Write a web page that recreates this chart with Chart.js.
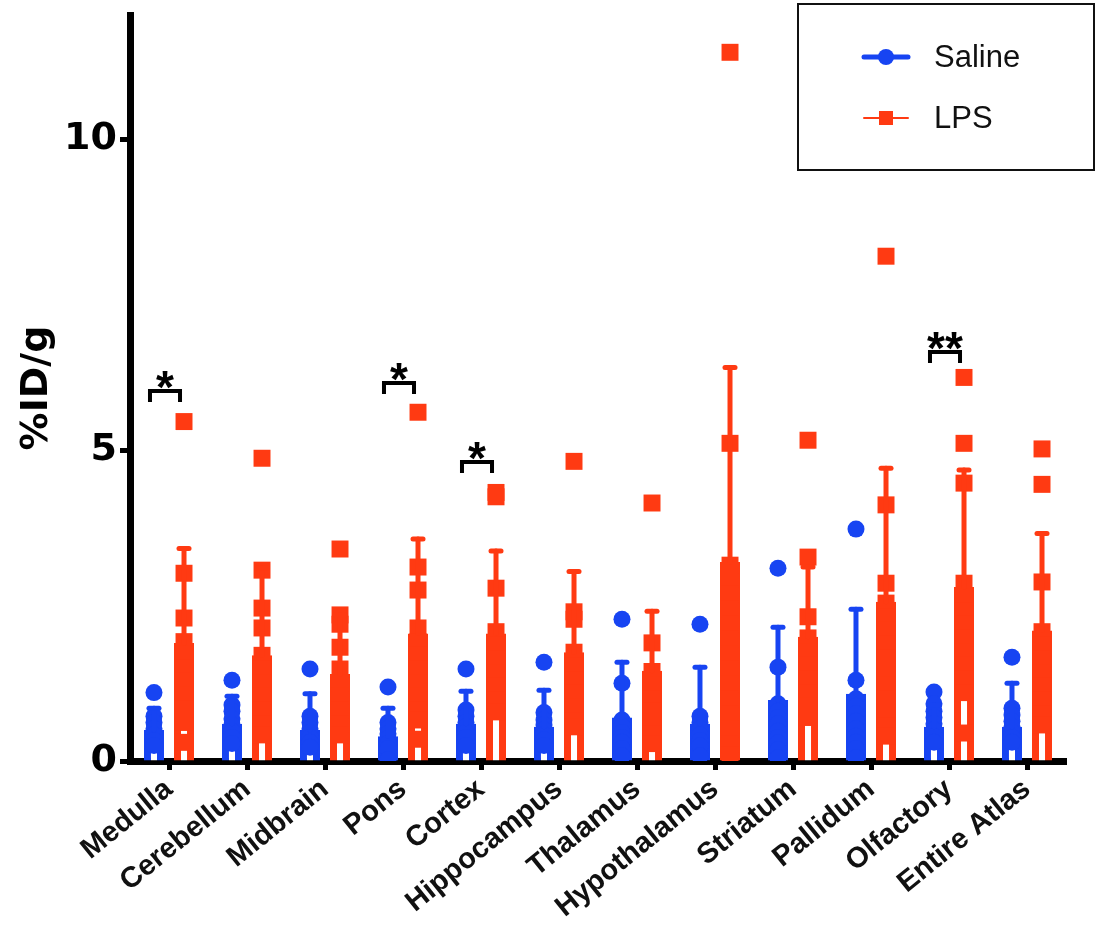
<!DOCTYPE html>
<html>
<head>
<meta charset="utf-8">
<script src="https://cdn.jsdelivr.net/npm/chart.js@4.4.1/dist/chart.umd.min.js"></script>
<style>
  html, body { margin: 0; padding: 0; background: #fff; }
  #wrap { width: 1097px; height: 939px; position: relative; }
</style>
</head>
<body>
<div id="wrap"><canvas id="c" width="1097" height="939"></canvas></div>
<script>
// ---------- data ----------
const categories = ['Medulla','Cerebellum','Midbrain','Pons','Cortex','Hippocampus','Thalamus','Hypothalamus','Striatum','Pallidum','Olfactory','Entire Atlas'];
const seriesNames = ['Saline', 'LPS'];

const salineMean = [0.50, 0.60, 0.50, 0.40, 0.60, 0.55, 0.70, 0.60, 0.98, 1.08, 0.55, 0.55];
const salineSD   = [0.35, 0.44, 0.58, 0.45, 0.52, 0.59, 0.89, 0.91, 1.17, 1.36, 0.35, 0.70];
const lpsMean    = [1.90, 1.70, 1.40, 2.05, 2.05, 1.75, 1.45, 3.20, 2.00, 2.56, 2.80, 2.10];
const lpsSD      = [1.52, 1.40, 0.95, 1.52, 1.33, 1.30, 0.96, 3.13, 1.12, 2.15, 1.88, 1.56];

const salinePoints = [
  [1.10, 0.72, 0.62, 0.52, 0.42, 0.33, 0.25],
  [1.30, 0.90, 0.80, 0.68, 0.58, 0.48, 0.38, 0.28],
  [1.48, 0.72, 0.62, 0.52, 0.45, 0.38, 0.30, 0.22],
  [1.19, 0.62, 0.52, 0.44, 0.36, 0.28, 0.20, 0.02],
  [1.48, 0.82, 0.72, 0.62, 0.55, 0.46, 0.38, 0.25],
  [1.59, 0.78, 0.66, 0.58, 0.50, 0.42, 0.34, 0.25],
  [2.28, 1.25, 0.66, 0.56, 0.46, 0.38, 0.30, 0.20, 0.08],
  [2.20, 0.72, 0.62, 0.52, 0.42, 0.33, 0.24, 0.08],
  [3.10, 1.51, 0.92, 0.80, 0.70, 0.60, 0.48, 0.38, 0.29, 0.18, 0.05],
  [3.73, 1.30, 1.00, 0.88, 0.76, 0.64, 0.52, 0.40, 0.30, 0.20, 0.05],
  [1.11, 0.92, 0.80, 0.70, 0.60, 0.50, 0.40, 0.30],
  [1.67, 0.85, 0.74, 0.64, 0.55, 0.46, 0.38, 0.30]
];
const lpsPoints = [
  [5.46, 3.02, 2.30, 1.92, 1.72, 1.50, 1.28, 1.06, 0.84, 0.62, 0.30],
  [4.87, 3.07, 2.46, 2.14, 1.70, 1.48, 1.26, 1.04, 0.82, 0.60, 0.42],
  [3.41, 2.35, 2.20, 1.83, 1.48, 1.26, 1.04, 0.82, 0.60, 0.42],
  [5.61, 3.12, 2.75, 2.14, 1.92, 1.70, 1.48, 1.26, 1.04, 0.82, 0.66, 0.35],
  [4.32, 4.25, 2.78, 2.08, 1.86, 1.64, 1.42, 1.20, 0.98, 0.79],
  [4.82, 2.40, 2.28, 1.75, 1.53, 1.31, 1.09, 0.87, 0.65, 0.55],
  [4.15, 1.90, 1.44, 1.22, 1.00, 0.80, 0.62, 0.44, 0.28],
  [11.40, 5.11, 3.15, 2.92, 2.68, 2.44, 2.20, 1.96, 1.72, 1.48, 1.24, 1.00, 0.76, 0.52, 0.28, 0.10],
  [5.16, 3.28, 2.32, 1.98, 1.76, 1.54, 1.32, 1.10, 0.88, 0.70],
  [8.12, 4.12, 2.86, 2.54, 2.32, 2.10, 1.88, 1.66, 1.44, 1.22, 1.00, 0.78, 0.56, 0.40],
  [6.17, 5.11, 4.47, 2.86, 2.64, 2.42, 2.20, 1.98, 1.76, 1.54, 1.32, 1.10, 0.45],
  [5.02, 4.45, 2.88, 2.08, 1.86, 1.64, 1.42, 1.20, 0.98, 0.76, 0.58]
];

const yTicks = [0, 5, 10];
const sigCategory = [0, 3, 4, 10];
const sigLevel    = [5.95, 6.08, 4.81, 6.58];
const sigLabel    = ['*', '*', '*', '**'];

// ---------- styles ----------
const BLUE = '#1744f2';
const RED  = '#ff3a12';
const OFF = 0.1925; // half distance between the two bars of a group, in category units

function barXY(means, sign) { return means.map((v, i) => ({ x: i + sign * OFF, y: v })); }
function ptsXY(pts, sign) {
  const out = [];
  pts.forEach((arr, i) => arr.forEach(v => out.push({ x: i + sign * OFF, y: v })));
  return out;
}

// ---------- plugins ----------
const errorBars = {
  id: 'errorBars',
  afterDatasetsDraw(chart) {
    const ctx = chart.ctx, y = chart.scales.y;
    const sds = [salineSD, lpsSD], means = [salineMean, lpsMean], cols = [BLUE, RED];
    [0, 1].forEach(d => {
      const meta = chart.getDatasetMeta(d);
      meta.data.forEach((el, i) => {
        const yTop = y.getPixelForValue(means[d][i] + sds[d][i]);
        ctx.save();
        ctx.strokeStyle = cols[d];
        ctx.lineCap = 'round';
        ctx.lineWidth = 5;
        ctx.beginPath(); ctx.moveTo(el.x, el.y); ctx.lineTo(el.x, yTop); ctx.stroke();
        ctx.beginPath(); ctx.moveTo(el.x - 5, yTop); ctx.lineTo(el.x + 5, yTop); ctx.stroke();
        ctx.restore();
      });
    });
  }
};

const sigMarks = {
  id: 'sigMarks',
  afterDatasetsDraw(chart) {
    const ctx = chart.ctx, y = chart.scales.y;
    const m0 = chart.getDatasetMeta(0), m1 = chart.getDatasetMeta(1);
    sigCategory.forEach((c, k) => {
      const x0 = m0.data[c].x - 4, x1 = m1.data[c].x - 4;
      const yy = y.getPixelForValue(sigLevel[k]);
      ctx.save();
      ctx.strokeStyle = '#000';
      ctx.lineWidth = 4;
      ctx.lineJoin = 'miter';
      ctx.beginPath();
      ctx.moveTo(x0, yy + 11); ctx.lineTo(x0, yy); ctx.lineTo(x1, yy); ctx.lineTo(x1, yy + 11);
      ctx.stroke();
      ctx.fillStyle = '#000';
      ctx.font = 'bold 46px "Liberation Sans", Arial, sans-serif';
      ctx.textAlign = 'center';
      ctx.textBaseline = 'alphabetic';
      ctx.fillText(sigLabel[k], (x0 + x1) / 2, yy + 12);
      ctx.restore();
    });
  }
};

const boxLegend = {
  id: 'boxLegend',
  afterDraw(chart) {
    const ctx = chart.ctx;
    const bx = 798, by = 4, bw = 296, bh = 166;
    ctx.save();
    ctx.strokeStyle = '#111';
    ctx.lineWidth = 2;
    ctx.strokeRect(bx, by, bw, bh);
    const rows = [
      { name: seriesNames[0], color: BLUE, y: 57, lw: 5, shape: 'circle' },
      { name: seriesNames[1], color: RED,  y: 118, lw: 2, shape: 'rect' }
    ];
    rows.forEach(r => {
      ctx.strokeStyle = r.color; ctx.fillStyle = r.color;
      ctx.lineWidth = r.lw; ctx.lineCap = 'round';
      ctx.beginPath(); ctx.moveTo(864, r.y); ctx.lineTo(908, r.y); ctx.stroke();
      ctx.beginPath();
      if (r.shape === 'circle') { ctx.arc(886, r.y, 8, 0, Math.PI * 2); ctx.fill(); }
      else { ctx.fillRect(879, r.y - 7, 14, 14); }
      ctx.fillStyle = '#111';
      ctx.font = '31px "Liberation Sans", Arial, sans-serif';
      ctx.textAlign = 'left'; ctx.textBaseline = 'middle';
      ctx.fillText(r.name, 934, r.y + 1);
    });
    ctx.restore();
  }
};

// ---------- chart ----------
new Chart(document.getElementById('c'), {
  type: 'bar',
  data: {
    datasets: [
      { label: seriesNames[0], data: barXY(salineMean, -1), backgroundColor: '#fff', borderColor: BLUE, borderWidth: 7,
        borderSkipped: 'start', grouped: false, categoryPercentage: 1, barPercentage: 0.667, order: 3 },
      { label: seriesNames[1], data: barXY(lpsMean, 1), backgroundColor: '#fff', borderColor: RED, borderWidth: 7,
        borderSkipped: 'start', grouped: false, categoryPercentage: 1, barPercentage: 0.667, order: 3 },
      { type: 'scatter', label: seriesNames[0] + ' points', data: ptsXY(salinePoints, -1),
        pointStyle: 'circle', pointRadius: 8.5, pointBorderWidth: 0, backgroundColor: BLUE, borderColor: BLUE, order: 1 },
      { type: 'scatter', label: seriesNames[1] + ' points', data: ptsXY(lpsPoints, 1),
        pointStyle: 'rect', pointRadius: 12, pointBorderWidth: 0, backgroundColor: RED, borderColor: RED, order: 1 }
    ]
  },
  options: {
    responsive: false,
    animation: false,
    layout: { padding: { top: 15, right: 31, left: 0, bottom: 0 } },
    plugins: { legend: { display: false }, tooltip: { enabled: false } },
    scales: {
      x: {
        type: 'linear',
        min: -0.5, max: 11.5,
        offset: false,
        afterBuildTicks: s => { s.ticks = categories.map((_, i) => ({ value: i })); },
        grid: { display: true, drawOnChartArea: false, drawTicks: true, tickLength: 9, tickWidth: 5, tickColor: '#000', offset: false },
        border: { display: true, width: 7, color: '#000' },
        ticks: { autoSkip: false, maxRotation: 39, minRotation: 39, padding: 2, color: '#111',
                 callback: v => categories[v],
                 font: { family: '"Liberation Sans", Arial, sans-serif', size: 29, weight: 'bold' } },
        afterFit: s => { s.height = 178; s.paddingLeft = 0; s.paddingRight = 0; }
      },
      y: {
        min: 0, max: 12,
        afterBuildTicks: s => { s.ticks = yTicks.map(v => ({ value: v })); },
        grid: { drawOnChartArea: false, drawTicks: true, tickLength: 10, tickWidth: 5, tickColor: '#000' },
        border: { display: true, width: 7, color: '#000' },
        ticks: { padding: 3, color: '#000', font: { family: '"DejaVu Sans", sans-serif', size: 38, weight: 'bold' } },
        title: { display: true, text: '%ID/g', color: '#000', padding: { top: 14, bottom: 0 },
                 font: { family: '"DejaVu Sans", sans-serif', size: 38, weight: 'bold' } },
        afterFit: s => { s.width = 130; s.paddingTop = 0; s.paddingBottom = 0; }
      }
    }
  },
  plugins: [errorBars, sigMarks, boxLegend]
});
</script>
</body>
</html>
